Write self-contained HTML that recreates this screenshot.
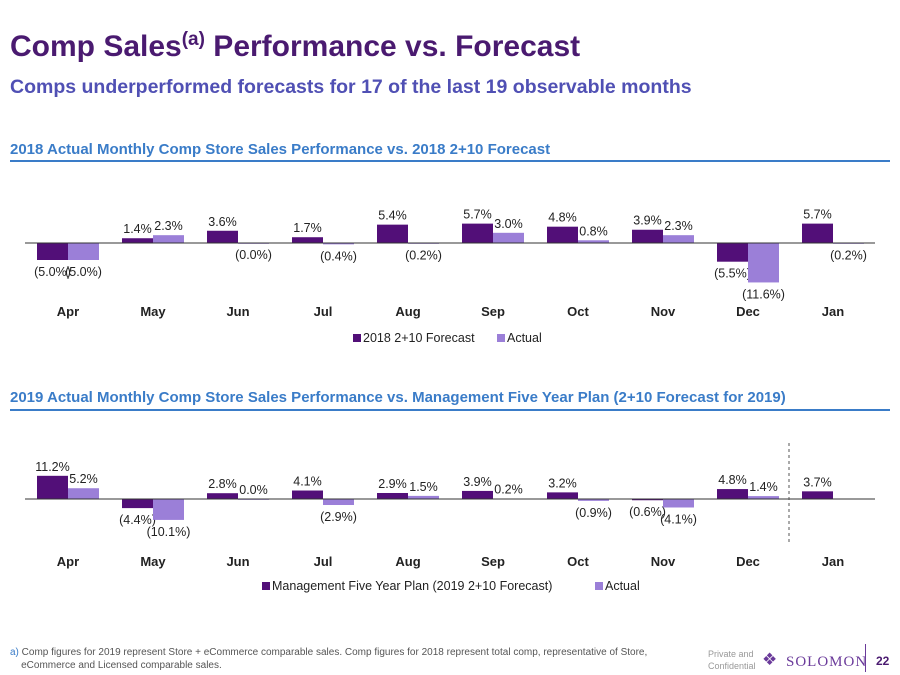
<!DOCTYPE html>
<html><head><meta charset="utf-8"><style>
body{margin:0;width:900px;height:675px;background:#fff;font-family:"Liberation Sans",sans-serif;position:relative;overflow:hidden}
.a{position:absolute;white-space:nowrap}
</style></head><body>
<div class="a" style="left:10px;top:29px;font-size:30px;font-weight:bold;color:#4a1a70">Comp Sales<sup style="font-size:19px">(a)</sup> Performance vs. Forecast</div>
<div class="a" style="left:10px;top:76px;font-size:19.5px;font-weight:bold;color:#5050b4">Comps underperformed forecasts for 17 of the last 19 observable months</div>
<div class="a" style="left:10px;top:141px;font-size:15px;font-weight:bold;color:#3a7cc8">2018 Actual Monthly Comp Store Sales Performance vs. 2018 2+10 Forecast</div>
<div class="a" style="left:10px;top:160px;width:880px;height:2px;background:#3a7cc8"></div>
<div class="a" style="left:10px;top:389px;font-size:15px;font-weight:bold;color:#3a7cc8">2019 Actual Monthly Comp Store Sales Performance vs. Management Five Year Plan (2+10 Forecast for 2019)</div>
<div class="a" style="left:10px;top:409px;width:880px;height:2px;background:#3a7cc8"></div>
<svg class="a" style="left:0;top:0" width="900" height="675" id="svg"></svg>
<div class="a" style="left:10px;top:646px;font-size:10px;color:#555;line-height:13px"><span style="color:#3a7cc8">a)</span> Comp figures for 2019 represent Store + eCommerce comparable sales. Comp figures for 2018 represent total comp, representative of Store,<br>&nbsp;&nbsp;&nbsp;&nbsp;eCommerce and Licensed comparable sales.</div>
<div class="a" style="left:708px;top:648px;font-size:9px;color:#999;line-height:12px">Private and<br>Confidential</div>
<div class="a" style="left:762px;top:650px;font-size:17px;color:#6a3a9a">❖</div>
<div class="a" style="left:786px;top:654px;font-family:'Liberation Serif',serif;font-size:15px;color:#6a3a9a;letter-spacing:1px">SOLOMON</div>
<div class="a" style="left:865px;top:644px;width:1px;height:28px;background:#6a3a9a"></div>
<div class="a" style="left:876px;top:654px;font-size:12px;font-weight:bold;color:#4a1a70">22</div>
<script>
const months=["Apr","May","Jun","Jul","Aug","Sep","Oct","Nov","Dec","Jan"];
const fc2018=[-5.0,1.4,3.6,1.7,5.4,5.7,4.8,3.9,-5.5,5.7];
const act2018=[-5.0,2.3,-0.0,-0.4,-0.2,3.0,0.8,2.3,-11.6,-0.2];
const plan2019=[11.2,-4.4,2.8,4.1,2.9,3.9,3.2,-0.6,4.8,3.7];
const act2019=[5.2,-10.1,0.0,-2.9,1.5,0.2,-0.9,-4.1,1.4,null];
const svg=document.getElementById('svg');
const NS='http://www.w3.org/2000/svg';
function mk(t,a,txt){const e=document.createElementNS(NS,t);for(const k in a)e.setAttribute(k,a[k]);if(txt!=null)e.textContent=txt;svg.appendChild(e);return e;}
function neg(v){return v<0||Object.is(v,-0);}
function fmt(v){return neg(v)?'('+Math.abs(v).toFixed(1)+'%)':v.toFixed(1)+'%';}
function chart(id,base,scale,s1,s2,monthY,legY,leg1,leg1x,leg2x){
  const x=i=>68+i*85;
  const y=v=>base-v*scale;
  const bw=31;
  [[s1,'#520f78',-bw],[s2,'#9b7fd8',0]].forEach(([arr,col,off],si)=>{
    arr.forEach((v,i)=>{
      if(v==null)return;
      const top=Math.min(y(v),base),h=Math.max(Math.abs(y(v)-base),0.8);
      const r=mk('rect',{x:x(i)+off,y:top,width:bw,height:h,fill:col});
      
      
      const ly=!neg(v)?y(v)-5:Math.max(y(v),base)+16;
      const t=mk('text',{x:x(i)+off+bw/2,y:ly,'text-anchor':'middle','font-size':12.5,fill:'#222'},fmt(v));
      
      
    });
  });
  const ax=mk('line',{x1:25,x2:875,y1:base,y2:base,stroke:'#333','stroke-width':1});
  
  
  months.forEach((m,i)=>{
    const t=mk('text',{x:x(i),y:monthY,'text-anchor':'middle','font-size':13,'font-weight':'bold',fill:'#222'},m);
    
    
  });
  const l1=mk('rect',{x:leg1x,y:legY-8,width:8,height:8,fill:'#520f78'});
  
  
  const t1=mk('text',{x:leg1x+10,y:legY,'font-size':12.5,fill:'#222'},leg1);
  
  
  const l2=mk('rect',{x:leg2x,y:legY-8,width:8,height:8,fill:'#9b7fd8'});
  
  
  const t2=mk('text',{x:leg2x+10,y:legY,'font-size':12.5,fill:'#222'},'Actual');
  
  
}
chart('chart1',243,3.4,fc2018,act2018,316,342,'2018 2+10 Forecast',353,497);
chart('chart2',499,2.07,plan2019,act2019,566,590,'Management Five Year Plan (2019 2+10 Forecast)',262,595);
const d=mk('line',{x1:789,x2:789,y1:443,y2:545,stroke:'#555','stroke-dasharray':'3,3'});


</script>
</body></html>
